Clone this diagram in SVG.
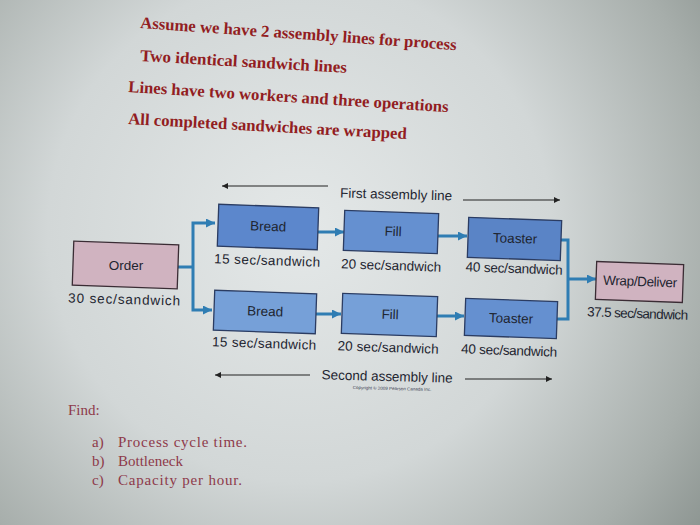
<svg xmlns="http://www.w3.org/2000/svg" width="700" height="525" viewBox="0 0 700 525">
<defs>
<radialGradient id="bg" cx="300" cy="230" r="560" gradientUnits="userSpaceOnUse">
<stop offset="0" stop-color="#e4e8e8"/>
<stop offset="0.45" stop-color="#d2d7d7"/>
<stop offset="0.75" stop-color="#a7aeab"/>
<stop offset="1" stop-color="#7a837f"/>
</radialGradient>
<marker id="ab" viewBox="0 0 10 10" refX="10" refY="5" markerWidth="10" markerHeight="9" markerUnits="userSpaceOnUse" orient="auto">
<path d="M0,0 L10,5 L0,10 z" fill="#2f7db3"/>
</marker>
<marker id="ak" viewBox="0 0 10 10" refX="10" refY="5" markerWidth="9" markerHeight="6" markerUnits="userSpaceOnUse" orient="auto">
<path d="M0,0 L10,5 L0,10 z" fill="#222"/>
</marker>
<style>
.title{font-family:"Liberation Serif",serif;font-weight:bold;font-size:16.5px;fill:#921d22}
.find{font-family:"Liberation Serif",serif;font-size:15px;fill:#8e3a4a}
.lbl{font-family:"Liberation Sans",Arial,sans-serif;font-size:13.5px;fill:#1e2530;text-anchor:middle}
.cap{font-family:"Liberation Sans",Arial,sans-serif;font-size:13.5px;fill:#1e2530;text-anchor:middle}
.blue{fill:#6590d0;stroke:#2b3c62;stroke-width:1.3}
.pink{fill:#d0b3c0;stroke:#3a2c34;stroke-width:1.3}
.con{fill:none;stroke:#2f7db3;stroke-width:3}
.thin{fill:none;stroke:#222;stroke-width:1.2}
</style>
</defs>
<rect x="0" y="0" width="700" height="525" fill="url(#bg)"/>

<g id="title">
<text class="title" x="140" y="28" transform="rotate(4 140 28)" textLength="317" lengthAdjust="spacingAndGlyphs">Assume we have 2 assembly lines for process</text>
<text class="title" x="140" y="61" transform="rotate(3.3 140 61)" textLength="207" lengthAdjust="spacingAndGlyphs">Two identical sandwich lines</text>
<text class="title" x="128" y="92" transform="rotate(3.6 128 92)" textLength="321" lengthAdjust="spacingAndGlyphs">Lines have two workers and three operations</text>
<text class="title" x="128" y="124" transform="rotate(3.1 128 124)" textLength="279" lengthAdjust="spacingAndGlyphs">All completed sandwiches are wrapped</text>
</g>

<g id="connectors">
<path class="con" d="M178,267 H193"/>
<path class="con" d="M193,267 V223 H215" marker-end="url(#ab)"/>
<path class="con" d="M193,267 V310 H212" marker-end="url(#ab)"/>
<path class="con" d="M318,232 H344" marker-end="url(#ab)"/>
<path class="con" d="M316,314 H341" marker-end="url(#ab)"/>
<path class="con" d="M438,236 H467" marker-end="url(#ab)"/>
<path class="con" d="M437,316 H464" marker-end="url(#ab)"/>
<path class="con" d="M561,240 H568 V319 H557"/>
<path class="con" d="M568,279 H596" marker-end="url(#ab)"/>
</g>

<g id="line1-label">
<path class="thin" d="M328,186 H222" marker-end="url(#ak)"/>
<text class="lbl" x="396" y="199" transform="rotate(1.5 396 199)" textLength="112">First assembly line</text>
<path class="thin" d="M463,200 H560" marker-end="url(#ak)"/>
</g>

<g id="line2-label">
<path class="thin" d="M310,375 H215" marker-end="url(#ak)"/>
<text class="lbl" x="387" y="381" transform="rotate(1.5 387 381)" textLength="131">Second assembly line</text>
<text x="392" y="390" font-family="Liberation Sans,Arial,sans-serif" font-size="4.5" fill="#3a4050" text-anchor="middle" transform="rotate(1.5 392 390)">Copyright © 2009 Pearson Canada Inc.</text>
<path class="thin" d="M465,379 H552" marker-end="url(#ak)"/>
</g>

<g id="order">
<rect class="pink" x="73" y="243" width="105" height="44" transform="rotate(2 125.5 265)"/>
<text class="lbl" x="126" y="270" font-size="14">Order</text>
<text class="cap" x="124" y="304" transform="rotate(1.5 124 304)" textLength="112">30 sec/sandwich</text>
</g>

<g id="bread1">
<rect class="blue" x="218" y="206" width="100" height="42" transform="rotate(2 268 227)" style="fill:#5c87cc"/>
<text class="lbl" x="268" y="231" transform="rotate(2 268 231)">Bread</text>
<text class="cap" x="267" y="265" transform="rotate(2 267 265)" textLength="106">15 sec/sandwich</text>
</g>

<g id="bread2">
<rect class="blue" x="214" y="292" width="102" height="40" transform="rotate(2 265 312)" style="fill:#76a0d8"/>
<text class="lbl" x="265" y="316" transform="rotate(2 265 316)">Bread</text>
<text class="cap" x="264" y="348" transform="rotate(2 264 348)" textLength="104">15 sec/sandwich</text>
</g>

<g id="fill1">
<rect class="blue" x="344" y="212" width="94" height="40" transform="rotate(2 391 232)"/>
<text class="lbl" x="393" y="236" font-size="12" transform="rotate(2 393 236)">Fill</text>
<text class="cap" x="391" y="270" transform="rotate(2 391 270)" textLength="100">20 sec/sandwich</text>
</g>

<g id="fill2">
<rect class="blue" x="342" y="295" width="95" height="40" transform="rotate(2 389.5 315)" style="fill:#76a0d8"/>
<text class="lbl" x="390" y="319" font-size="12" transform="rotate(2 390 319)">Fill</text>
<text class="cap" x="388" y="352" transform="rotate(2 388 352)" textLength="101">20 sec/sandwich</text>
</g>

<g id="toaster1">
<rect class="blue" x="468" y="219" width="93" height="40" transform="rotate(2 515 239)" style="fill:#5a84c6"/>
<text class="lbl" x="515" y="243" font-size="13" transform="rotate(2 515 243)">Toaster</text>
<text class="cap" x="514" y="273" transform="rotate(2 514 273)" textLength="97">40 sec/sandwich</text>
</g>

<g id="toaster2">
<rect class="blue" x="465" y="300" width="92" height="37" transform="rotate(2 511 318.5)"/>
<text class="lbl" x="511" y="323" font-size="13" transform="rotate(2 511 323)">Toaster</text>
<text class="cap" x="509" y="355" transform="rotate(2 509 355)" textLength="96">40 sec/sandwich</text>
</g>

<g id="wrap">
<rect class="pink" x="596" y="263" width="87" height="38" transform="rotate(2 639.5 282)"/>
<text class="lbl" x="640" y="286" font-size="12.5" transform="rotate(2 640 286)" textLength="74">Wrap/Deliver</text>
<text class="cap" x="637.5" y="318" font-size="12" transform="rotate(2 637.5 318)" textLength="101">37.5 sec/sandwich</text>
</g>

<g id="find">
<text class="find" x="68" y="415">Find:</text>
<text class="find" x="92" y="447">a)</text>
<text class="find" x="118" y="447" textLength="129">Process cycle time.</text>
<text class="find" x="92" y="466">b)</text>
<text class="find" x="118" y="466">Bottleneck</text>
<text class="find" x="92" y="485">c)</text>
<text class="find" x="118" y="485" textLength="124">Capacity per hour.</text>
</g>
</svg>
